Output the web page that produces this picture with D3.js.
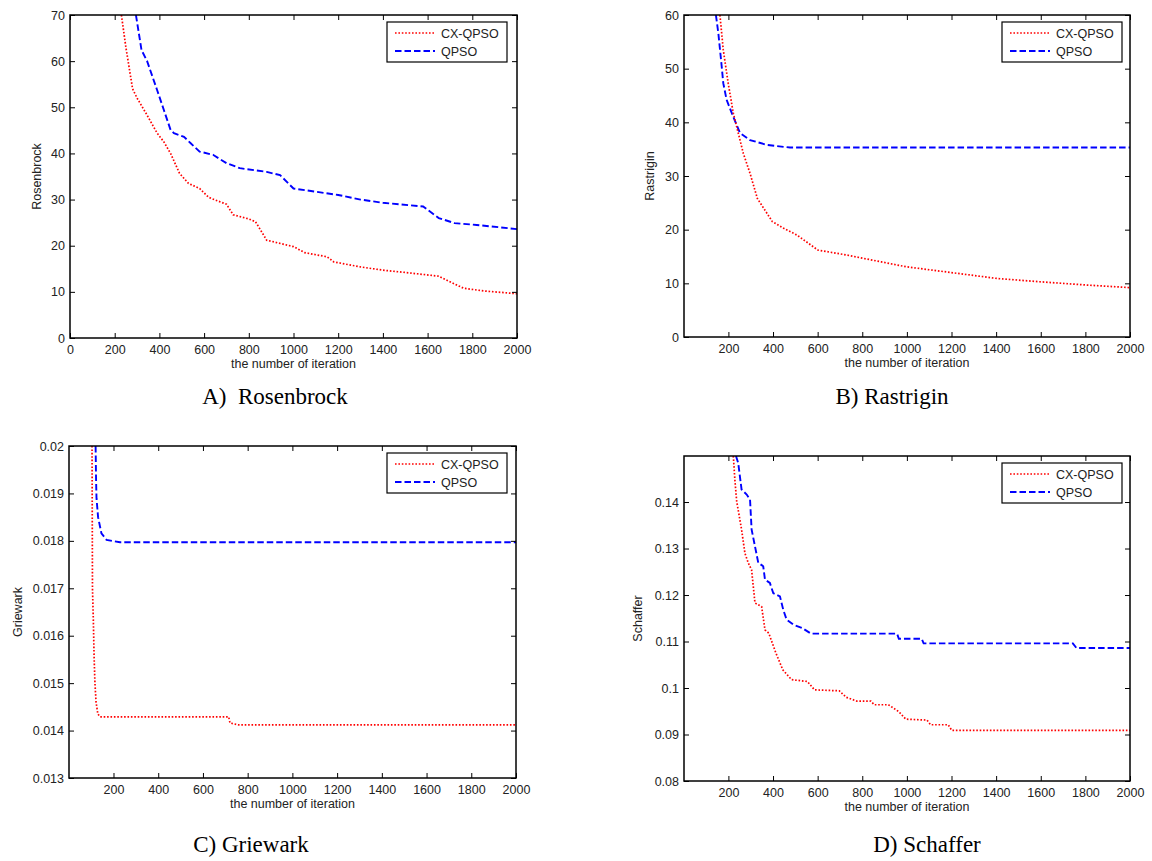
<!DOCTYPE html>
<html>
<head>
<meta charset="utf-8">
<script src="https://cdn.jsdelivr.net/npm/d3@7"></script>
<style>
  body { margin: 0; background: #fff; }
  text { font-family: "Liberation Sans", Arial, sans-serif; }
</style>
</head>
<body>
<svg id="chart" width="1152" height="861"></svg>
<script>
"use strict";

// ---- data ----

// legend names
var seriesNames = ["CX-QPSO", "QPSO"];

// tick labels
var xTicksFull = [0, 200, 400, 600, 800, 1000, 1200, 1400, 1600, 1800, 2000];
var xTicksNoZero = [200, 400, 600, 800, 1000, 1200, 1400, 1600, 1800, 2000];
var rosenTicks = [0, 10, 20, 30, 40, 50, 60, 70];
var rastTicks = [0, 10, 20, 30, 40, 50, 60];
var griewTicks = [0.013, 0.014, 0.015, 0.016, 0.017, 0.018, 0.019, 0.02];
var schafTicks = [0.08, 0.09, 0.1, 0.11, 0.12, 0.13, 0.14];

// A) Rosenbrock
var rosenCxIter = [230, 250, 280, 300, 340, 390, 420, 450, 490, 530, 580, 620, 650, 700, 730, 800, 830, 880, 1000, 1050, 1150, 1180, 1300, 1400, 1500, 1650, 1700, 1760, 1850, 2000];
var rosenCxVal = [70, 63, 54, 52, 48.7, 44.4, 42.5, 40, 35.7, 33.5, 32.4, 30.5, 29.9, 29, 26.7, 25.8, 25.2, 21.2, 19.8, 18.5, 17.6, 16.5, 15.4, 14.7, 14.2, 13.4, 12.2, 10.8, 10.2, 9.6];
var rosenQIter = [295, 320, 345, 390, 420, 450, 465, 510, 540, 580, 640, 700, 760, 880, 940, 1000, 1200, 1300, 1400, 1580, 1650, 1720, 1820, 2000];
var rosenQVal = [70, 62.4, 60, 53.7, 49.4, 45.1, 44.4, 43.6, 42.2, 40.4, 39.7, 37.9, 36.8, 36.0, 35.3, 32.4, 31, 30, 29.3, 28.5, 26, 24.9, 24.5, 23.6];

// B) Rastrigin
var rastCxIter = [162, 177, 199, 222, 237, 267, 297, 330, 397, 450, 507, 601, 727, 885, 995, 1200, 1405, 1594, 1799, 2000];
var rastCxVal = [60, 53.5, 47.3, 41.7, 39.2, 34.2, 30.5, 25.8, 21.5, 20.2, 19.0, 16.2, 15.3, 14.0, 13.1, 12.0, 10.9, 10.3, 9.7, 9.2];
var rastQIter = [144, 155, 170, 177, 192, 222, 252, 297, 372, 476, 2000];
var rastQVal = [60, 56.6, 50.4, 47.3, 44.2, 41.0, 38, 36.7, 35.8, 35.3, 35.3];

// C) Griewark
var griewCxIter = [104, 106, 110, 113, 117, 122, 130, 140, 715, 721, 760, 2000];
var griewCxVal = [0.02, 0.017, 0.0163, 0.0156, 0.0150, 0.0146, 0.01435, 0.01429, 0.01429, 0.01416, 0.01412, 0.01412];
var griewQIter = [120, 122, 124, 131, 146, 169, 229, 2000];
var griewQVal = [0.02, 0.0193, 0.0189, 0.0185, 0.01816, 0.01802, 0.01797, 0.01797];

// D) Schaffer
var schafCxIter = [222, 229, 237, 259, 274, 289, 304, 319, 349, 364, 381, 413, 444, 483, 554, 586, 697, 728, 775, 838, 854, 917, 964, 995, 1090, 1106, 1185, 1201, 2000];
var schafCxVal = [0.1499, 0.1448, 0.1402, 0.1341, 0.1290, 0.1269, 0.1254, 0.1183, 0.1175, 0.1125, 0.1118, 0.1075, 0.1039, 0.1018, 0.1014, 0.0996, 0.0994, 0.0980, 0.0972, 0.0972, 0.0964, 0.0964, 0.0949, 0.0933, 0.0931, 0.0921, 0.0921, 0.0909, 0.0909];
var schafQIter = [234, 244, 259, 282, 297, 304, 319, 334, 356, 364, 386, 401, 431, 446, 461, 492, 531, 570, 956, 964, 1066, 1075, 1744, 1760, 2000];
var schafQVal = [0.1499, 0.1484, 0.1427, 0.1416, 0.1405, 0.1341, 0.1305, 0.1269, 0.1262, 0.1233, 0.1226, 0.1204, 0.1197, 0.1168, 0.1147, 0.1136, 0.1129, 0.1117, 0.1117, 0.1106, 0.1106, 0.1096, 0.1096, 0.1086, 0.1086];

// ---- panel layout ----
var panels = [
    {
        box: { left: 70, right: 517, top: 15, bottom: 338 },
        xDomain: [0, 2000], xTicks: xTicksFull,
        yDomain: [0, 70], yTicks: rosenTicks,
        yLabel: "Rosenbrock", yLabelX: 37,
        title: "A)  Rosenbrock", titleX: 275, titleY: 404,
        legend: { x: 387, y: 22 },
        red: [rosenCxIter, rosenCxVal], blue: [rosenQIter, rosenQVal]
    },
    {
        box: { left: 684, right: 1130, top: 15, bottom: 337 },
        xDomain: [1, 2000], xTicks: xTicksNoZero,
        yDomain: [0, 60], yTicks: rastTicks,
        yLabel: "Rastrigin", yLabelX: 650,
        title: "B) Rastrigin", titleX: 892, titleY: 404,
        legend: { x: 1002, y: 22 },
        red: [rastCxIter, rastCxVal], blue: [rastQIter, rastQVal]
    },
    {
        box: { left: 69, right: 516, top: 446, bottom: 778 },
        xDomain: [1, 2000], xTicks: xTicksNoZero,
        yDomain: [0.013, 0.02], yTicks: griewTicks,
        yLabel: "Griewark", yLabelX: 18,
        title: "C) Griewark", titleX: 251, titleY: 852,
        legend: { x: 387, y: 453 },
        red: [griewCxIter, griewCxVal], blue: [griewQIter, griewQVal]
    },
    {
        box: { left: 684, right: 1130, top: 456, bottom: 781 },
        xDomain: [1, 2000], xTicks: xTicksNoZero,
        yDomain: [0.08, 0.1499], yTicks: schafTicks,
        yLabel: "Schaffer", yLabelX: 638,
        title: "D) Schaffer", titleX: 927, titleY: 852,
        legend: { x: 1002, y: 463 },
        red: [schafCxIter, schafCxVal], blue: [schafQIter, schafQVal]
    }
];

var redStyle = { color: "#ff0000", width: 1.7, dash: "1.6,1.8" };
var blueStyle = { color: "#0000ff", width: 1.9, dash: "6.5,3" };

var svg = d3.select("#chart");
var fontSize = "12.5px";

// draw one subplot
function drawPanel(p, i) {
    var b = p.box;
    var x = d3.scaleLinear().domain(p.xDomain).range([b.left, b.right]);
    var y = d3.scaleLinear().domain(p.yDomain).range([b.bottom, b.top]);
    var g = svg.append("g");

    // clip the curves to the axes box
    var clipId = "clip" + i;
    svg.append("clipPath").attr("id", clipId)
        .append("rect")
        .attr("x", b.left).attr("y", b.top)
        .attr("width", b.right - b.left).attr("height", b.bottom - b.top);

    var line = d3.line()
        .x(function (d) { return x(d[0]); })
        .y(function (d) { return y(d[1]); });

    function series(arr, st) {
        var pts = arr[0].map(function (v, k) { return [v, arr[1][k]]; });
        g.append("path")
            .attr("clip-path", "url(#" + clipId + ")")
            .attr("d", line(pts))
            .attr("fill", "none")
            .attr("stroke", st.color)
            .attr("stroke-width", st.width)
            .attr("stroke-dasharray", st.dash);
    }
    series(p.blue, blueStyle);
    series(p.red, redStyle);

    // axes, ticks pointing inward on all four sides
    var bottom = g.append("g").attr("transform", "translate(0," + b.bottom + ")")
        .call(d3.axisBottom(x).tickValues(p.xTicks).tickSizeInner(-5).tickSizeOuter(0).tickPadding(7)
            .tickFormat(function (d) { return String(d); }));
    var top = g.append("g").attr("transform", "translate(0," + b.top + ")")
        .call(d3.axisTop(x).tickValues(p.xTicks).tickSizeInner(-5).tickSizeOuter(0).tickFormat(""));
    var left = g.append("g").attr("transform", "translate(" + b.left + ",0)")
        .call(d3.axisLeft(y).tickValues(p.yTicks).tickSizeInner(-5).tickSizeOuter(0).tickPadding(5)
            .tickFormat(function (d) { return String(d); }));
    var right = g.append("g").attr("transform", "translate(" + b.right + ",0)")
        .call(d3.axisRight(y).tickValues(p.yTicks).tickSizeInner(-5).tickSizeOuter(0).tickFormat(""));

    [bottom, top, left, right].forEach(function (a) {
        a.select(".domain").remove();
        a.selectAll(".tick line").attr("stroke", "#000").attr("stroke-width", 1);
        a.selectAll("text").attr("fill", "#222").style("font-size", fontSize)
            .style("font-family", "'Liberation Sans', Arial, sans-serif");
    });

    // axes box
    g.append("rect")
        .attr("x", b.left).attr("y", b.top)
        .attr("width", b.right - b.left).attr("height", b.bottom - b.top)
        .attr("fill", "none").attr("stroke", "#000").attr("stroke-width", 1.5);

    // x label
    g.append("text")
        .attr("x", (b.left + b.right) / 2).attr("y", b.bottom + 30)
        .attr("text-anchor", "middle").attr("fill", "#222")
        .style("font-size", fontSize)
        .text("the number of iteration");

    // y label
    g.append("text")
        .attr("transform", "translate(" + (p.yLabelX + 4) + "," + ((b.top + b.bottom) / 2) + ") rotate(-90)")
        .attr("text-anchor", "middle").attr("fill", "#222")
        .style("font-size", fontSize)
        .text(p.yLabel);

    // legend
    var lg = g.append("g").attr("transform", "translate(" + p.legend.x + "," + p.legend.y + ")");
    lg.append("rect").attr("width", 120).attr("height", 40)
        .attr("fill", "#fff").attr("stroke", "#000").attr("stroke-width", 1.2);
    [redStyle, blueStyle].forEach(function (st, k) {
        var ly = 11 + k * 18;
        lg.append("line").attr("x1", 8).attr("x2", 48).attr("y1", ly).attr("y2", ly)
            .attr("stroke", st.color).attr("stroke-width", st.width).attr("stroke-dasharray", st.dash);
        lg.append("text").attr("x", 54).attr("y", ly + 4.5).attr("fill", "#222")
            .style("font-size", fontSize).text(seriesNames[k]);
    });

    // caption under the subplot
    svg.append("text")
        .attr("x", p.titleX).attr("y", p.titleY)
        .attr("text-anchor", "middle")
        .style("font-family", "'Liberation Serif', 'Times New Roman', serif")
        .style("font-size", "23px")
        .style("white-space", "pre")
        .attr("fill", "#000")
        .text(p.title);
}

panels.forEach(drawPanel);
</script>
</body>
</html>
